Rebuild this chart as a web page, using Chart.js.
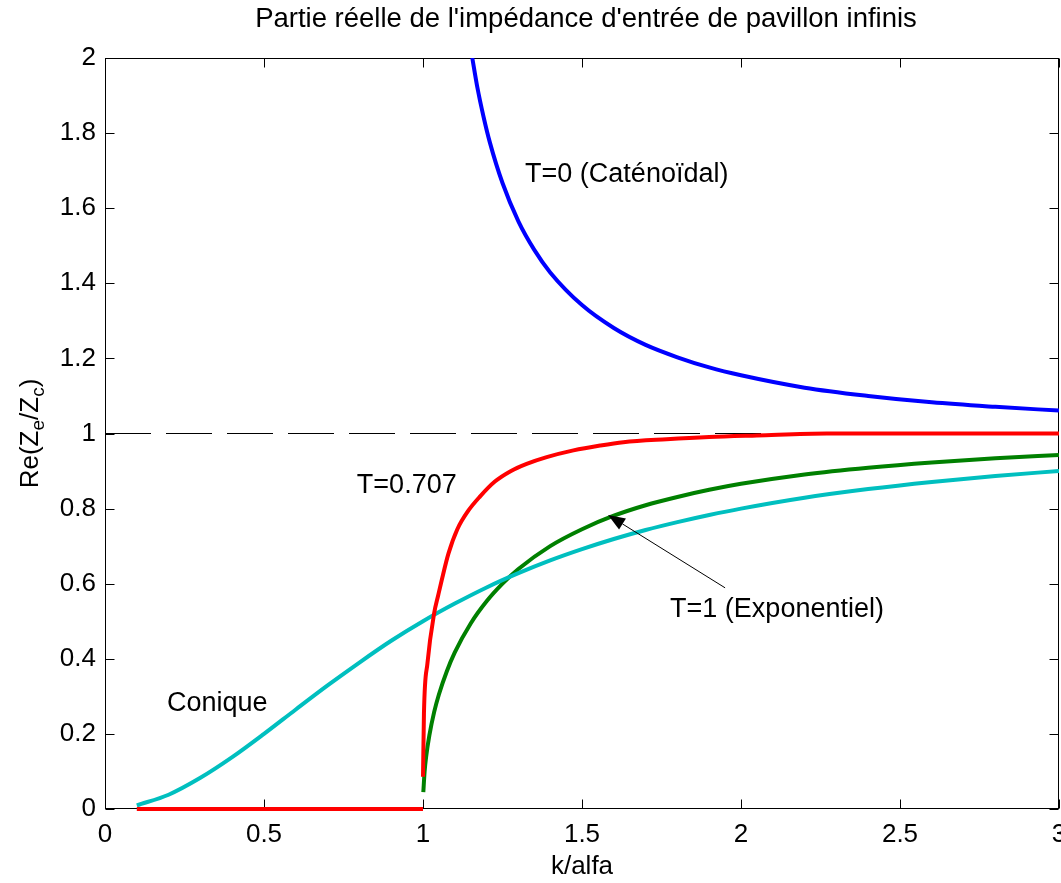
<!DOCTYPE html>
<html><head><meta charset="utf-8">
<script src="https://cdn.jsdelivr.net/npm/chart.js@4/dist/chart.umd.min.js"></script>
<style>html,body{margin:0;padding:0;background:#fff}#wrap{width:1061px;height:883px;position:relative}</style>
</head><body><div id="wrap"><canvas id="c"></canvas></div>
<script>
const FONT = "'Liberation Sans', Arial, Helvetica, sans-serif";
const titleText = "Partie réelle de l'impédance d'entrée de pavillon infinis";
const xAxisLabel = "k/alfa";
const xRange = [0, 3], yRange = [0, 2];
const xTickStep = 0.5, yTickStep = 0.2;

// Conique
const coniqueX = [0.1,0.2,0.3,0.4,0.5,0.6,0.7,0.8,0.9,1.0,1.1,1.2,1.3,1.4,1.5,1.6,1.7,1.8,1.9,2.0,2.2,2.4,2.6,2.8,3.0];
const coniqueY = [0.0099,0.038,0.083,0.138,0.200,0.265,0.329,0.390,0.448,0.500,0.547,0.590,0.628,0.662,0.692,0.719,0.743,0.764,0.783,0.800,0.829,0.852,0.871,0.887,0.900];

// T=1 (Exponentiel)
const expoX = [1.001,1.005,1.01,1.02,1.035,1.05,1.075,1.1,1.15,1.2,1.25,1.3,1.4,1.5,1.6,1.7,1.8,1.9,2.0,2.2,2.4,2.6,2.8,3.0];
const expoY = [0.045,0.099,0.140,0.196,0.258,0.305,0.367,0.417,0.494,0.553,0.600,0.639,0.700,0.745,0.781,0.809,0.831,0.850,0.866,0.891,0.909,0.923,0.934,0.943];

// T=0 (Caténoïdal)
const cateX = [1.155,1.17,1.19,1.21,1.25,1.3,1.35,1.4,1.5,1.6,1.7,1.8,1.9,2.0,2.2,2.4,2.6,2.8,3.0];
const cateY = [2.0,1.926,1.845,1.776,1.667,1.565,1.489,1.429,1.342,1.281,1.236,1.203,1.176,1.155,1.122,1.100,1.083,1.071,1.061];

// T=0.707 (zero segment, then curve)
const t707ZeroX = [0.1, 1.0];
const t707ZeroY = [0, 0];
const t707X = [1.0,1.003,1.014,1.035,1.048,1.059,1.08,1.108,1.143,1.179,1.226,1.274,1.326,1.389,1.473,1.557,1.63,1.766,1.9,2.05,2.27,3.0];
const t707Y = [0.086,0.255,0.388,0.521,0.570,0.610,0.680,0.745,0.795,0.832,0.872,0.899,0.919,0.937,0.955,0.968,0.977,0.985,0.991,0.995,1.0,1.0];

// Reference line
const refX = [0, 3];
const refY = [1, 1];

// Annotations (data coordinates)
const annotTexts = ["T=0 (Caténoïdal)", "T=0.707", "T=1 (Exponentiel)", "Conique"];
const annotX = [1.321, 0.792, 1.777, 0.195];
const annotY = [1.671, 0.841, 0.512, 0.261];
const arrowFrom = [1.950, 0.589];
const arrowTo = [1.582, 0.783];

const pts = (xs, ys) => xs.map((v, i) => ({x: v, y: ys[i]}));

const lineDs = (data, color, order) => ({
  data, borderColor: color, backgroundColor: color, borderWidth: 4,
  pointRadius: 0, pointHoverRadius: 0, showLine: true, fill: false,
  cubicInterpolationMode: 'monotone', order,
  clip: {left: 5, right: 0, top: 0, bottom: 5}
});

const fmt = v => String(Math.round(v * 10) / 10);

const decor = {
  id: 'decor',
  beforeDatasetsDraw(chart) {
    const {ctx, chartArea: a, scales: {x, y}} = chart;
    ctx.save();
    ctx.strokeStyle = '#000';
    ctx.lineWidth = 1;
    const L = Math.round(a.left) + 0.5, R = Math.round(a.right) - 0.5;
    const T = Math.round(a.top) + 0.5, B = Math.round(a.bottom) - 0.5;
    ctx.strokeRect(L, T, R - L, B - T);
    const tl = 9;
    ctx.beginPath();
    x.ticks.forEach(t => {
      const px = Math.round(x.getPixelForValue(t.value)) + 0.5;
      ctx.moveTo(px, B); ctx.lineTo(px, B - tl);
      ctx.moveTo(px, T); ctx.lineTo(px, T + tl);
    });
    y.ticks.forEach(t => {
      const py = Math.round(y.getPixelForValue(t.value)) + 0.5;
      ctx.moveTo(L, py); ctx.lineTo(L + tl, py);
      ctx.moveTo(R, py); ctx.lineTo(R - tl, py);
    });
    ctx.stroke();
    ctx.restore();
  },
  afterDraw(chart) {
    const {ctx, chartArea: a, scales: {x, y}} = chart;
    ctx.save();
    ctx.strokeStyle = '#000';
    ctx.lineWidth = 1;
    ctx.fillStyle = '#000';
    // title centred over the plot area
    ctx.font = `27.5px ${FONT}`;
    ctx.textAlign = 'center';
    ctx.textBaseline = 'alphabetic';
    ctx.fillText(titleText, (a.left + a.right) / 2 + 4, 27);

    // annotations
    ctx.font = `27px ${FONT}`;
    ctx.textAlign = 'left';
    annotTexts.forEach((s, i) => ctx.fillText(s, x.getPixelForValue(annotX[i]), y.getPixelForValue(annotY[i])));

    // arrow
    const x0 = x.getPixelForValue(arrowFrom[0]), y0 = y.getPixelForValue(arrowFrom[1]);
    const x1 = x.getPixelForValue(arrowTo[0]), y1 = y.getPixelForValue(arrowTo[1]);
    const ang = Math.atan2(y1 - y0, x1 - x0);
    const hl = 17, hw = 6.5;
    ctx.beginPath();
    ctx.moveTo(x0, y0);
    ctx.lineTo(x1 - hl * Math.cos(ang), y1 - hl * Math.sin(ang));
    ctx.stroke();
    ctx.beginPath();
    ctx.moveTo(x1, y1);
    ctx.lineTo(x1 - hl * Math.cos(ang) + hw * Math.sin(ang), y1 - hl * Math.sin(ang) - hw * Math.cos(ang));
    ctx.lineTo(x1 - hl * Math.cos(ang) - hw * Math.sin(ang), y1 - hl * Math.sin(ang) + hw * Math.cos(ang));
    ctx.closePath();
    ctx.fill();

    // y axis title with subscripts
    const parts = [["Re(Z", 0], ["e", 1], ["/Z", 0], ["c", 1], [")", 0]];
    const mainF = `26px ${FONT}`, subF = `19px ${FONT}`;
    let total = 0;
    parts.forEach(([s, sub]) => { ctx.font = sub ? subF : mainF; total += ctx.measureText(s).width; });
    ctx.translate(38, (a.top + a.bottom) / 2);
    ctx.rotate(-Math.PI / 2);
    let cx = -total / 2;
    parts.forEach(([s, sub]) => {
      ctx.font = sub ? subF : mainF;
      ctx.fillText(s, cx, sub ? 6 : 0);
      cx += ctx.measureText(s).width;
    });
    ctx.restore();
  }
};

new Chart(document.getElementById('c'), {
  type: 'scatter',
  data: {
    datasets: [
      lineDs(pts(t707ZeroX, t707ZeroY), '#ff0000', 0),
      lineDs(pts(t707X, t707Y), '#ff0000', 1),
      lineDs(pts(coniqueX, coniqueY), '#00bfbf', 2),
      lineDs(pts(expoX, expoY), '#008000', 3),
      lineDs(pts(cateX, cateY), '#0000ff', 4),
      Object.assign(lineDs(pts(refX, refY), '#000000', 5), {borderWidth: 1, borderDash: [46, 15], cubicInterpolationMode: 'default', tension: 0})
    ]
  },
  options: {
    responsive: true,
    maintainAspectRatio: false,
    animation: false,
    events: [],
    layout: {padding: {left: 0, right: 2, top: 58, bottom: 0}},
    plugins: {
      legend: {display: false},
      tooltip: {enabled: false},
      title: {display: false}
    },
    scales: {
      x: {
        type: 'linear', min: xRange[0], max: xRange[1],
        grid: {display: false, drawTicks: false},
        border: {display: false},
        ticks: {stepSize: xTickStep, color: '#000', font: {family: FONT, size: 26}, padding: 10, maxRotation: 0, callback: fmt},
        title: {display: true, text: xAxisLabel, color: '#000', font: {family: FONT, size: 26}, padding: {top: 0, bottom: 1}},
        afterFit(s) { s.height = 74; s.paddingRight = 0; s.paddingLeft = 0; }
      },
      y: {
        type: 'linear', min: yRange[0], max: yRange[1],
        grid: {display: false, drawTicks: false},
        border: {display: false},
        ticks: {stepSize: yTickStep, color: '#000', font: {family: FONT, size: 26}, padding: 9, callback: fmt},
        afterFit(s) { s.width = 105; }
      }
    }
  },
  plugins: [decor]
});
</script>
</body></html>
